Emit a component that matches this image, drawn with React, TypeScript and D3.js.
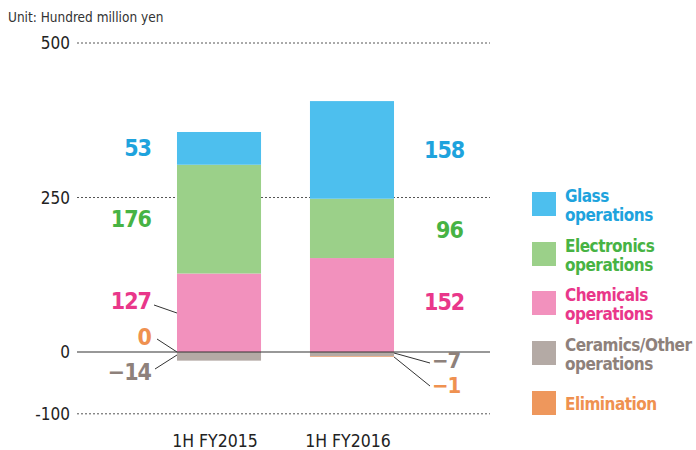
import React from "react";
import * as d3 from "d3";

const categories = ["1H FY2015", "1H FY2016"];
const seriesNames = ["Glass operations", "Electronics operations", "Chemicals operations", "Ceramics/Other operations", "Elimination"];
const glass = [53, 158];
const electronics = [176, 96];
const chemicals = [127, 152];
const ceramics = [-14, -7];
const elimination = [0, -1];
const ticks = [500, 250, 0, -100];

const fills = ["#4dbfee", "#9bd089", "#f291bd", "#b4aaa5", "#ee975c"];
const textColors = ["#1ea3dd", "#47b344", "#e9378a", "#8e817b", "#ef9150"];
const FONT = "'Liberation Sans Narrow', 'DejaVu Sans Condensed', 'Roboto', sans-serif";

export default function App() {
  const W = 696, H = 450;
  const y = d3.scaleLinear().domain([-100, 500]).range([413.8, 43]);
  const x = d3.scaleBand().domain(categories).range([110.5, 460.5]).paddingInner(0.368).paddingOuter(0.5);
  const bw = x.bandwidth();

  const rects: JSX.Element[] = [];
  categories.forEach((c, i) => {
    const x0 = x(c)!;
    let pos = 0;
    const posSeries = [chemicals, electronics, glass];
    const posIdx = [2, 1, 0];
    posSeries.forEach((s, k) => {
      const v = s[i];
      rects.push(<rect key={`p${i}${k}`} x={x0} width={bw} y={y(pos + v)} height={y(pos) - y(pos + v)} fill={fills[posIdx[k]]} />);
      pos += v;
    });
    let neg = 0;
    [ceramics, elimination].forEach((s, k) => {
      const v = s[i];
      if (v < 0) {
        rects.push(<rect key={`n${i}${k}`} x={x0} width={bw} y={y(neg)} height={y(neg + v) - y(neg)} fill={fills[3 + k]} />);
      }
      neg += v;
    });
  });

  const b1 = x(categories[0])!;
  const b2 = x(categories[1])! + bw;
  const mid = (a: number, b: number) => (y(a) + y(b)) / 2;

  return (
    <svg width={W} height={H} style={{ position: "absolute", left: 0, top: 0 }} fontFamily={FONT}>
      <text x={8} y={22} fontSize={13.5} fill="#333">Unit: Hundred million yen</text>
      {ticks.map((t) => (
        <g key={t}>
          <text x={70} y={y(t) + 6} fontSize={17} textAnchor="end" fill="#222">{t}</text>
          {t !== 0 && <line x1={77} x2={490} y1={y(t)} y2={y(t)} stroke="#555" strokeWidth={1} strokeDasharray="2,2" />}
        </g>
      ))}
      {rects}
      <line x1={77} x2={490} y1={y(0)} y2={y(0)} stroke="#333" strokeWidth={1.2} />
      {categories.map((c) => (
        <text key={c} x={x(c)! + bw / 2 - 4} y={447} fontSize={17.5} textAnchor="middle" fill="#222">{c}</text>
      ))}
      <g fontWeight="bold" fontSize={23} letterSpacing={-1}>
        <text x={151} y={mid(127 + 176, 127 + 176 + 53) + 8} textAnchor="end" fill={textColors[0]}>{glass[0]}</text>
        <text x={151} y={mid(127, 127 + 176) + 8} textAnchor="end" fill={textColors[1]}>{electronics[0]}</text>
        <text x={151} y={309} textAnchor="end" fill={textColors[2]}>{chemicals[0]}</text>
        <text x={151} y={345} textAnchor="end" fill={textColors[4]}>{elimination[0]}</text>
        <text x={151} y={380} textAnchor="end" fill={textColors[3]}>{"\u2212" + Math.abs(ceramics[0])}</text>
        <text x={424} y={mid(248, 406) + 8} fill={textColors[0]}>{glass[1]}</text>
        <text x={436} y={mid(152, 248) + 10} fill={textColors[1]}>{electronics[1]}</text>
        <text x={424} y={310} fill={textColors[2]}>{chemicals[1]}</text>
      </g>
      <g fontWeight="bold" fontSize={22} letterSpacing={-1}>
        <text x={432} y={368} fill={textColors[3]}>{"\u2212" + Math.abs(ceramics[1])}</text>
        <text x={432} y={393} fill={textColors[4]}>{"\u2212" + Math.abs(elimination[1])}</text>
      </g>
      <g stroke="#333" strokeWidth={1}>
        <line x1={154} y1={305} x2={b1} y2={313} />
        <line x1={157} y1={339} x2={b1} y2={y(0)} />
        <line x1={155} y1={369} x2={b1} y2={y(0) + 3} />
        <line x1={b2} y1={y(0) + 1} x2={430} y2={363} />
        <line x1={b2} y1={y(-8)} x2={430} y2={386} />
      </g>
      {seriesNames.map((n, i) => {
        const top = [192, 242, 291, 341, 391][i];
        const parts = n === "Elimination" ? [n] : [n.replace(" operations", ""), "operations"];
        return (
          <g key={n}>
            <rect x={532} y={top} width={24} height={24} fill={fills[i]} />
            {parts.map((p, j) => (
              <text key={j} x={565} y={parts.length === 1 ? top + 19 : top + 10 + j * 19} fontSize={17} letterSpacing={-0.5} fontWeight="bold" fill={textColors[i]}>{p}</text>
            ))}
          </g>
        );
      })}
    </svg>
  );
}
